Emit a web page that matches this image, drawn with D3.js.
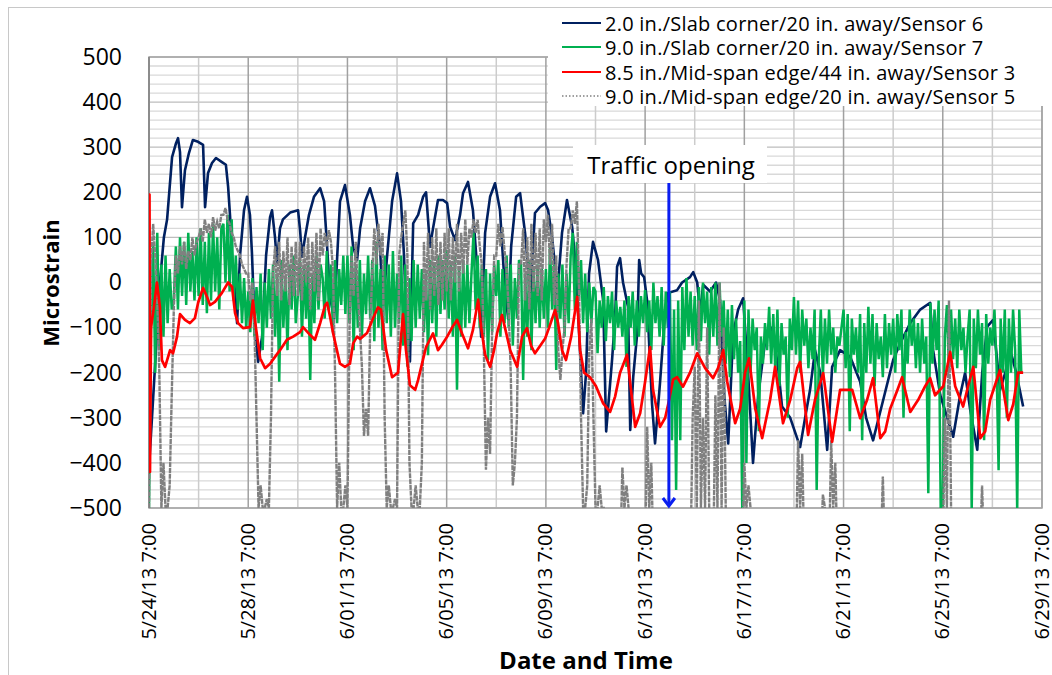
<!DOCTYPE html>
<html>
<head>
<meta charset="utf-8">
<script src="https://cdn.jsdelivr.net/npm/d3@7"></script>
<style>
  body { margin: 0; background: #fff; }
  text { font-family: "Open Sans", sans-serif; fill: #000; }
</style>
</head>
<body>
<svg id="chart" width="1052" height="675"></svg>
<script>
// time origin of the chart: 5/24/13 7:00
const startDate = new Date(2013, 4, 24, 7, 0);
const endDate = new Date(2013, 5, 29, 7, 0);
const trafficOpening = new Date(2013, 5, 14, 6, 0);

const xTickLabels = ["5/24/13 7:00", "5/28/13 7:00", "6/01/13 7:00", "6/05/13 7:00", "6/09/13 7:00",
  "6/13/13 7:00", "6/17/13 7:00", "6/21/13 7:00", "6/25/13 7:00", "6/29/13 7:00"];
const yTicks = [-500, -400, -300, -200, -100, 0, 100, 200, 300, 400, 500];

const seriesNames = [
  "2.0 in./Slab corner/20 in. away/Sensor 6",
  "9.0 in./Slab corner/20 in. away/Sensor 7",
  "8.5 in./Mid-span edge/44 in. away/Sensor 3",
  "9.0 in./Mid-span edge/20 in. away/Sensor 5"
];

// Sensor 6: [days after start, microstrain]
const sensor6 = [
  [0.00,-410],[0.12,-300],[0.28,-150],[0.44,0],[0.60,100],[0.73,140],[0.93,278],[1.09,309],[1.17,320],
  [1.25,289],[1.33,167],[1.45,249],[1.61,287],[1.77,316],[1.98,312],[2.18,305],[2.26,167],[2.38,243],
  [2.54,265],[2.70,276],[2.94,267],[3.10,261],[3.19,212],[3.27,145],[3.35,49],[3.47,-23],[3.55,-90],
  [3.67,60],[3.83,160],[3.95,190],[4.07,150],[4.15,65],[4.27,-110],[4.40,-176],[4.56,-120],[4.72,60],
  [4.88,145],[4.96,160],[5.08,100],[5.16,43],[5.28,120],[5.40,140],[5.69,155],[6.01,160],[6.09,116],
  [6.17,57],[6.29,100],[6.45,150],[6.65,190],[6.90,209],[7.06,180],[7.18,80],[7.30,-32],[7.46,-80],
  [7.58,50],[7.70,180],[7.90,216],[8.10,150],[8.23,79],[8.39,50],[8.51,120],[8.71,180],[8.91,209],
  [9.11,170],[9.31,79],[9.44,-54],[9.60,60],[9.80,180],[10.00,242],[10.16,180],[10.28,60],[10.40,-120],
  [10.52,-175],[10.65,131],[10.85,150],[11.05,190],[11.17,200],[11.33,79],[11.45,120],[11.65,183],
  [11.85,183],[12.02,176],[12.14,123],[12.34,94],[12.54,150],[12.66,198],[12.86,223],[13.06,160],
  [13.27,0],[13.39,-120],[13.55,110],[13.75,190],[13.95,220],[14.15,160],[14.35,-17],[14.48,-80],
  [14.60,80],[14.80,190],[14.96,198],[15.16,110],[15.28,35],[15.36,-40],[15.56,154],[15.77,168],
  [15.97,176],[16.09,160],[16.25,100],[16.37,35],[16.45,-32],[16.65,110],[16.85,183],[17.06,123],
  [17.18,50],[17.30,-68],[17.50,-290],[17.62,-200],[17.74,20],[17.90,90],[18.10,50],[18.31,-40],
  [18.43,-330],[18.67,-170],[18.79,-76],[18.87,35],[18.99,54],[19.11,0],[19.31,-54],[19.40,-327],
  [19.52,-210],[19.68,-113],[19.76,50],[19.84,20],[19.96,12],[20.08,-40],[20.28,-270],[20.40,-357],
  [20.60,-223],[20.81,-60],[20.93,-23],[21.29,-17],[21.49,0],[21.81,12],[21.94,23],[22.10,0],
  [22.22,-68],[22.34,-5],[22.62,-20],[22.86,0],[23.02,-40],[23.19,-250],[23.35,-357],[23.55,-113],
  [23.75,-60],[23.95,-35],[24.15,-200],[24.35,-400],[24.56,-250],[24.84,-130],[25.12,-100],[25.36,-187],
  [25.52,-275],[25.85,-300],[26.25,-365],[26.45,-300],[26.65,-238],[26.85,-150],[27.06,-200],[27.34,-371],
  [27.54,-187],[27.86,-150],[28.27,-165],[28.67,-220],[28.91,-300],[29.19,-350],[29.60,-260],[30.00,-172],
  [30.28,-135],[30.69,-90],[31.09,-60],[31.49,-45],[31.61,-150],[31.90,-250],[32.42,-342],[32.70,-250],
  [32.90,-200],[33.10,-280],[33.39,-371],[33.59,-200],[33.79,-98],[34.03,-83],[34.31,-238],[34.52,-200],
  [34.72,-150],[34.96,-200],[35.24,-275]
];

// Sensor 3: [days after start, microstrain]
const sensor3 = [
  [0.00,-100],[0.02,195],[0.04,-420],[0.08,-100],[0.20,-54],[0.32,0],[0.44,-54],[0.52,-172],[0.65,-187],
  [0.85,-150],[0.97,-157],[1.13,-120],[1.25,-70],[1.45,-83],[1.65,-90],[1.85,-79],[1.98,-45],[2.18,-12],
  [2.34,-32],[2.46,-50],[2.66,-43],[2.94,-23],[3.19,0],[3.35,-10],[3.47,-68],[3.59,-90],[3.79,-101],
  [4.07,-99],[4.19,-40],[4.31,-100],[4.48,-168],[4.68,-190],[4.88,-180],[5.08,-165],[5.28,-150],
  [5.56,-127],[5.81,-120],[6.09,-110],[6.21,-99],[6.49,-116],[6.69,-127],[6.90,-90],[7.10,-50],
  [7.18,-45],[7.30,-76],[7.42,-112],[7.70,-180],[7.90,-187],[8.10,-180],[8.23,-135],[8.39,-120],
  [8.51,-125],[8.79,-112],[9.03,-80],[9.23,-55],[9.35,-60],[9.56,-150],[9.80,-210],[10.04,-200],
  [10.24,-70],[10.36,-150],[10.52,-228],[10.73,-238],[10.85,-216],[11.05,-170],[11.17,-143],[11.45,-113],
  [11.65,-150],[11.81,-138],[12.02,-120],[12.22,-100],[12.42,-83],[12.62,-113],[12.86,-146],[13.06,-105],
  [13.27,-38],[13.39,-100],[13.55,-160],[13.75,-187],[13.91,-150],[14.03,-113],[14.23,-72],[14.35,-100],
  [14.56,-150],[14.84,-187],[15.04,-120],[15.24,-101],[15.40,-140],[15.56,-157],[15.77,-140],[15.97,-124],
  [16.13,-100],[16.37,-61],[16.49,-90],[16.65,-150],[16.81,-172],[17.02,-120],[17.26,-32],[17.38,-150],
  [17.54,-200],[17.78,-210],[18.02,-230],[18.31,-268],[18.59,-287],[18.79,-253],[18.99,-200],[19.27,-160],
  [19.40,-223],[19.60,-320],[19.80,-290],[20.00,-220],[20.20,-143],[20.32,-238],[20.60,-320],[20.81,-300],
  [20.93,-270],[21.13,-215],[21.29,-210],[21.53,-231],[21.81,-200],[22.10,-157],[22.42,-190],[22.74,-212],
  [22.94,-190],[23.15,-150],[23.31,-220],[23.63,-312],[23.83,-280],[24.03,-200],[24.19,-168],[24.44,-280],
  [24.72,-345],[25.04,-260],[25.24,-187],[25.56,-312],[25.85,-260],[26.13,-190],[26.25,-176],[26.57,-338],
  [26.85,-260],[27.18,-201],[27.54,-353],[27.86,-238],[28.35,-238],[28.67,-301],[28.95,-260],[29.19,-212],
  [29.48,-345],[29.68,-330],[29.88,-280],[30.16,-240],[30.36,-210],[30.69,-287],[31.01,-260],[31.29,-230],
  [31.49,-212],[31.69,-250],[32.02,-230],[32.30,-154],[32.50,-230],[32.82,-275],[33.02,-230],[33.23,-187],
  [33.51,-345],[33.71,-330],[33.91,-260],[34.31,-194],[34.64,-305],[34.84,-270],[35.04,-200],[35.24,-200]
];

// Sensor 7: one reading every 2 hours from 5/24/13 7:00 (one row per day)
const sensor7 = [
  -500,-100,90,-200,110,-150,40,-120,60,-90,30,-60,
  -40,80,-60,100,-30,90,-50,110,-20,70,-40,100,
  -30,120,-50,90,-68,110,-40,130,-20,100,-60,120,
  130,0,150,-20,140,-40,60,-60,20,-90,10,-100,
  -20,-110,10,-120,-10,-90,20,-150,0,-100,30,-80,
  40,-120,20,-220,50,-100,10,-150,40,-60,60,-90,
  -30,50,-120,30,-80,40,-216,20,-90,60,-60,40,
  10,-80,70,-60,40,-110,50,-90,30,-50,60,-70,
  60,-90,80,-150,40,-100,50,-120,20,-70,60,-80,
  50,-130,90,-100,30,-150,60,-90,40,-120,70,-100,
  20,-90,60,-140,40,-187,10,-130,50,-100,40,-80,
  30,-110,20,-161,50,-90,40,-120,60,-70,50,-60,
  72,-80,40,-120,60,-238,30,-120,50,-100,40,-90,
  20,110,-60,60,-100,40,-120,30,-172,20,-110,40,
  -30,50,-120,30,-90,60,-100,40,-140,10,-80,50,
  40,-216,20,-120,50,-150,30,-90,40,-100,30,-80,
  30,-100,79,-60,40,-194,20,-80,40,-120,20,-90,
  60,110,-60,90,-40,50,-90,20,-110,0,-90,-10,
  -20,-157,-40,-100,-10,-130,-30,-90,-20,-150,-40,-100,
  -54,-120,-40,-187,-30,-100,-20,-140,-40,-120,-30,-90,
  -17,-110,-40,-150,0,-90,-30,-120,-10,-140,-20,-100,
  -20,-350,-60,-460,-40,-350,-10,-150,10,-120,-20,-140,
  -30,-150,-10,-130,0,-90,-20,-160,-10,-120,0,-140,
  0,-120,-40,-180,-60,-210,-50,-170,-80,-200,-130,-505,
  -40,-400,-60,-200,-80,-150,-100,-330,-120,-180,-90,-150,
  -54,-180,-70,-200,-60,-230,-90,-160,-120,-300,-80,-150,
  -32,-160,-40,-200,-60,-140,-80,-190,-100,-170,-60,-460,
  -170,-60,-210,-80,-180,-60,-160,-100,-200,-120,-140,-100,
  -60,-190,-70,-330,-80,-160,-100,-200,-70,-350,-90,-200,
  -54,-180,-70,-230,-90,-170,-120,-210,-70,-190,-90,-160,
  -80,-200,-70,-150,-60,-300,-110,-180,-60,-140,-80,-190,
  -90,-200,-80,-180,-120,-467,-45,-180,-60,-150,-40,-505,
  -505,-120,-50,-200,-60,-170,-80,-190,-60,-150,-100,-200,
  -120,-60,-505,-80,-190,-60,-160,-90,-350,-70,-180,-100,
  -140,-60,-180,-416,-80,-200,-60,-300,-80,-200,-60,-150,
  -505,-60,-200
];

// Sensor 5: one reading every 2 hours from 5/24/13 7:00 (-600 = off scale, below -500)
const sensor5 = [
  -500,40,130,60,-40,-200,-500,-400,-500,-500,-450,-250,
  -60,60,20,80,40,90,30,70,50,100,60,90,
  100,120,90,140,110,130,100,145,115,135,120,150,
  150,165,140,130,110,100,80,70,60,40,30,20,
  20,-40,0,-100,-300,-500,-450,-500,-500,-480,-500,-300,
  20,80,-30,90,-40,70,-20,100,-50,80,-30,90,
  -30,90,-40,80,0,100,-60,90,-20,110,-40,120,
  60,110,80,116,90,30,-200,-500,-400,-500,-500,-450,
  -500,-100,60,-30,90,-20,-100,-187,-340,-280,-340,-100,
  20,120,40,130,60,110,-300,-500,-450,-500,-500,-480,
  -500,60,100,130,160,60,-400,-500,-500,-450,-500,-500,
  -400,90,-40,110,-60,100,-30,120,-50,90,-40,110,
  -20,120,-40,100,0,130,-20,110,20,140,40,120,
  100,140,110,139,80,40,-150,-415,-300,-380,-100,60,
  60,130,80,123,70,30,-60,-200,-450,-400,-300,40,
  40,120,-40,100,-60,130,-20,110,-30,120,-40,140,
  90,150,40,130,-50,60,-150,-216,-150,-100,40,120,
  120,160,130,180,0,-300,-500,-500,-450,-150,-80,-300,
  -500,-500,-450,-500,-500,-600,-600,-600,-600,-600,-600,-600,
  -600,-410,-500,-450,-500,-600,-600,-600,-600,-600,-600,-600,
  -600,-320,-500,-400,-600,-600,-600,-600,-600,-600,-600,-600,
  -600,-600,-600,-600,-600,-600,-600,-600,-600,-600,-600,-300,
  -187,-500,-40,-500,-300,-500,-100,-500,-600,-600,-250,-500,
  0,-500,-100,-500,-600,-600,-600,-600,-600,-600,-600,-600,
  -400,-500,-450,-500,-600,-600,-600,-600,-600,-600,-600,-600,
  -600,-600,-600,-600,-600,-600,-600,-600,-600,-600,-600,-600,
  -600,-600,-350,-500,-380,-600,-600,-600,-600,-600,-600,-600,
  -600,-600,-470,-500,-600,-600,-350,-500,-400,-600,-600,-600,
  -600,-600,-600,-600,-600,-600,-600,-600,-600,-600,-600,-600,
  -600,-600,-600,-600,-600,-600,-600,-430,-600,-600,-600,-600,
  -600,-600,-600,-600,-600,-600,-600,-600,-600,-600,-600,-600,
  -600,-600,-600,-600,-600,-600,-600,-600,-600,-600,-600,-600,
  -600,-300,-500,-40,-500,-600,-600,-600,-600,-600,-600,-600,
  -600,-600,-600,-600,-600,-600,-600,-450,-600,-600,-600,-600,
  -600,-600,-600,-600,-600,-600,-600,-600,-600,-600,-600,-600,
  -600,-600,-600
];

const colors = ["#002060", "#00B050", "#FF0000", "#808080"];

const svg = d3.select("#chart");
const plotLeft = 149, plotRight = 1042, plotTop = 57, plotBottom = 508;

const x = d3.scaleTime().domain([startDate, endDate]).range([plotLeft, plotRight]);
const y = d3.scaleLinear().domain([-500, 500]).range([plotBottom, plotTop]);

const parseTick = d3.timeParse("%m/%d/%y %H:%M");
const xTicks = xTickLabels.map(parseTick);

// outer chart border
svg.append("rect").attr("x", 8.5).attr("y", 7.5).attr("width", 1100).attr("height", 700)
  .attr("fill", "none").attr("stroke", "#c8c8c8");

// grid
const grid = svg.append("g");
grid.selectAll(".hminor").data(d3.range(-480, 500, 20).filter(v => v % 100 !== 0)).enter()
  .append("line").attr("x1", plotLeft).attr("x2", plotRight)
  .attr("y1", d => y(d)).attr("y2", d => y(d))
  .attr("stroke", "#d9d9d9").attr("stroke-width", 1.3);
grid.selectAll(".hmajor").data(yTicks).enter()
  .append("line").attr("x1", plotLeft).attr("x2", plotRight)
  .attr("y1", d => y(d)).attr("y2", d => y(d))
  .attr("stroke", "#bdbdbd").attr("stroke-width", 1.3);
const minorDays = d3.range(2, 36, 4).map(d => d3.timeDay.offset(startDate, d));
grid.selectAll(".vminor").data(minorDays).enter()
  .append("line").attr("y1", plotTop).attr("y2", plotBottom)
  .attr("x1", d => x(d)).attr("x2", d => x(d))
  .attr("stroke", "#cccccc").attr("stroke-width", 1.5);
grid.selectAll(".vmajor").data(xTicks).enter()
  .append("line").attr("y1", plotTop).attr("y2", plotBottom)
  .attr("x1", d => x(d)).attr("x2", d => x(d))
  .attr("stroke", "#a0a0a0").attr("stroke-width", 1.5);

// plot frame
svg.append("rect").attr("x", plotLeft).attr("y", plotTop)
  .attr("width", plotRight - plotLeft).attr("height", plotBottom - plotTop)
  .attr("fill", "none").attr("stroke", "#a6a6a6").attr("stroke-width", 1.5);
svg.append("line").attr("x1", plotLeft).attr("x2", plotLeft).attr("y1", plotTop).attr("y2", plotBottom)
  .attr("stroke", "#8c8c8c").attr("stroke-width", 2);

svg.append("clipPath").attr("id", "plotclip").append("rect")
  .attr("x", plotLeft).attr("y", plotTop).attr("width", plotRight - plotLeft).attr("height", plotBottom - plotTop);

const toDate = t => new Date(startDate.getTime() + t * 86400000);
const stepDate = i => d3.timeHour.offset(startDate, 2 * i);

const line = d3.line().x(d => x(d[0])).y(d => y(d[1]));

const s6 = sensor6.map(d => [toDate(d[0]), d[1]]);
const s3 = sensor3.map(d => [toDate(d[0]), d[1]]);
const s7 = sensor7.map((v, i) => [stepDate(i), v]);
const s5 = sensor5.map((v, i) => [stepDate(i), v]);

const plot = svg.append("g").attr("clip-path", "url(#plotclip)");
plot.append("path").datum(s6).attr("d", line).attr("fill", "none")
  .attr("stroke", colors[0]).attr("stroke-width", 2.6).attr("stroke-linejoin", "round");
plot.append("path").datum(s7).attr("d", line).attr("fill", "none")
  .attr("stroke", colors[1]).attr("stroke-width", 2.5);
plot.append("path").datum(s5).attr("d", line).attr("fill", "none")
  .attr("stroke", colors[3]).attr("stroke-width", 2.4).attr("stroke-dasharray", "5,0.8");
plot.append("path").datum(s3).attr("d", line).attr("fill", "none")
  .attr("stroke", colors[2]).attr("stroke-width", 2.7).attr("stroke-linejoin", "round");

// y axis labels
const yAxis = svg.append("g").attr("transform", `translate(${plotLeft},0)`)
  .call(d3.axisLeft(y).tickValues(yTicks).tickSize(0).tickPadding(27));
yAxis.select(".domain").remove();
yAxis.selectAll("text").attr("font-size", 23).attr("font-family", "Open Sans");

// x axis labels
const xAxis = svg.append("g").attr("transform", `translate(0,${plotBottom})`)
  .call(d3.axisBottom(x).tickValues(xTicks).tickSize(0).tickFormat((d, i) => xTickLabels[i]));
xAxis.select(".domain").remove();
xAxis.selectAll("text").attr("font-size", 20).attr("font-family", "Open Sans")
  .attr("transform", "rotate(-90)").attr("text-anchor", "end")
  .attr("x", -15).attr("y", 0).attr("dy", "0.3em");

// axis titles
svg.append("text").attr("transform", "translate(50,283) rotate(-90)")
  .attr("text-anchor", "middle").attr("dominant-baseline", "central")
  .attr("font-size", 22).attr("font-weight", "bold").text("Microstrain");
svg.append("text").attr("x", 586).attr("y", 659)
  .attr("text-anchor", "middle").attr("dominant-baseline", "central")
  .attr("font-size", 24).attr("font-weight", "bold").text("Date and Time");

// legend
svg.append("rect").attr("x", 548).attr("y", 8).attr("width", 504).attr("height", 98).attr("fill", "#fff");
const legend = svg.append("g");
const rows = [23, 47, 72, 96];
seriesNames.forEach((name, i) => {
  const l = legend.append("line").attr("x1", 562).attr("x2", 601)
    .attr("y1", rows[i]).attr("y2", rows[i]).attr("stroke", colors[i])
    .attr("stroke-width", i === 3 ? 1.5 : 2.2);
  if (i === 3) l.attr("stroke-dasharray", "1.5,2");
  legend.append("text").attr("x", 605).attr("y", rows[i]).attr("dominant-baseline", "central")
    .attr("font-size", 20).attr("letter-spacing", 0.25).text(name);
});

// traffic opening annotation
svg.append("rect").attr("x", 573).attr("y", 145).attr("width", 194).attr("height", 38).attr("fill", "#fff");
svg.append("text").attr("x", 671).attr("y", 164).attr("text-anchor", "middle")
  .attr("dominant-baseline", "central").attr("font-size", 24).text("Traffic opening");
const ax = x(trafficOpening);
svg.append("line").attr("x1", ax).attr("x2", ax).attr("y1", 183).attr("y2", 506)
  .attr("stroke", "#0a1ef0").attr("stroke-width", 3);
svg.append("path").attr("d", `M${ax - 6},${498} L${ax},${506} L${ax + 6},${498}`)
  .attr("fill", "none").attr("stroke", "#0a1ef0").attr("stroke-width", 3);
</script>
</body>
</html>
